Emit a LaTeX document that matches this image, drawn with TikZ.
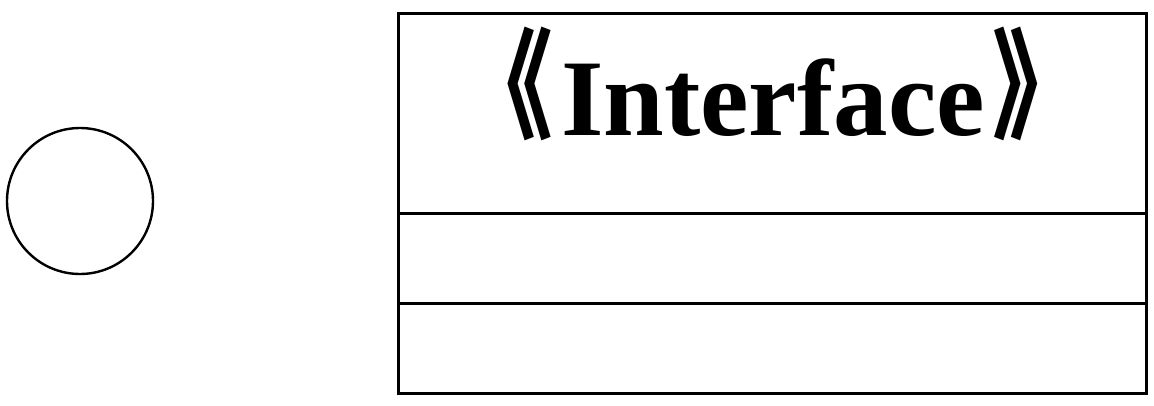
\documentclass[tikz,border=0pt]{standalone}
\usepackage{fontspec}
\setmainfont{Liberation Serif}
\newfontfamily\cjk{Noto Sans CJK SC}
\usetikzlibrary{positioning}
\newcommand\guil[1]{\raisebox{6pt}{\scalebox{0.85}[1.1]{\cjk\char#1}}}

\begin{document}
\begin{tikzpicture}[x=1pt,y=-1pt,
  lolli/.style={draw,circle,line width=2.4pt,minimum size=146pt,inner sep=0pt},
  comp/.style={draw,line width=3pt,minimum width=748pt,outer sep=0pt,inner sep=0pt},
  ttl/.style={font=\fontsize{109}{120}\selectfont\bfseries,inner sep=0pt,anchor=base}]
  \useasboundingbox (0,0) rectangle (1154,405);
  \node[lolli] (iface) at (80,201) {};
  \node[comp,minimum height=200pt,anchor=north west] (name) at (398,13) {};
  \node[comp,minimum height=90pt,below=0pt of name] (attrs) {};
  \node[comp,minimum height=90pt,below=0pt of attrs] (ops) {};
  \node[ttl] (title) at (773,135) {\guil{"300A}\kern8pt Interface\kern8pt\guil{"300B}};
\end{tikzpicture}
\end{document}
